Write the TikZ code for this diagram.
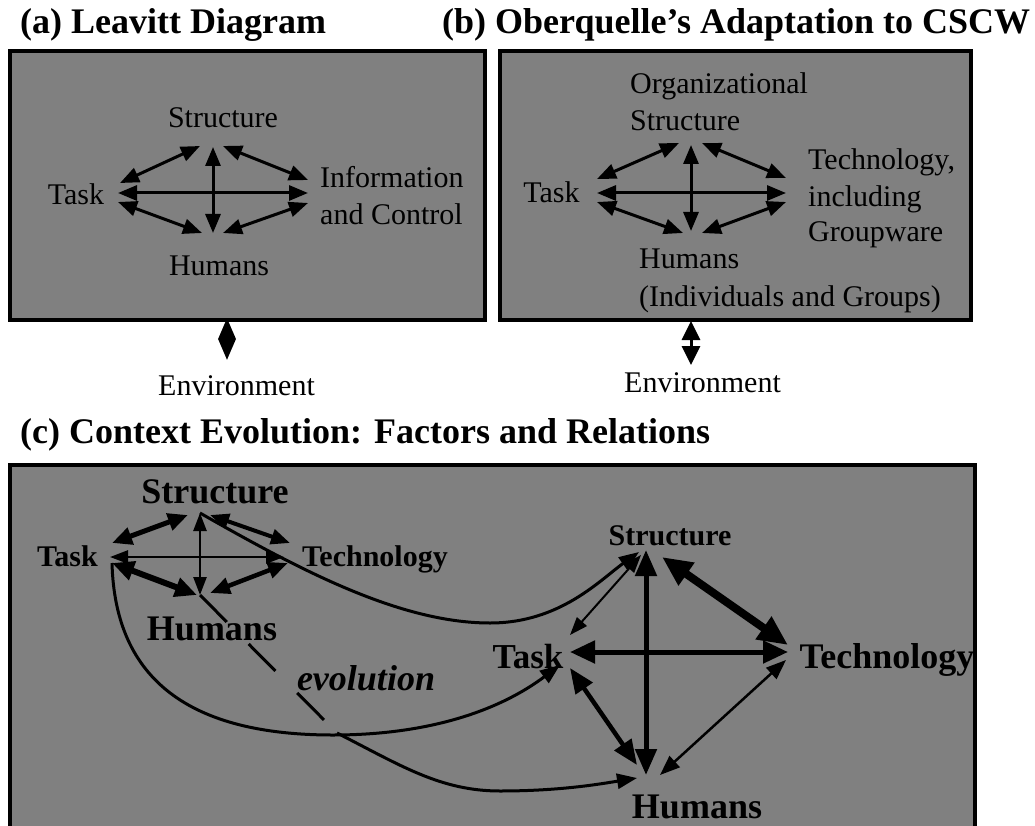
\documentclass[tikz,border=0pt]{standalone}
\usepackage{fontspec}
\setmainfont{Liberation Serif}
\usetikzlibrary{arrows.meta}
\definecolor{panelgray}{RGB}{128,128,128}
\begin{document}
\begin{tikzpicture}[x=1pt,y=-1pt,
  panel/.style={fill=panelgray, draw=black, line width=4pt},
  lbl/.style={inner sep=0pt, anchor=base, font=\fontsize{30}{36}\selectfont},
  lblw/.style={lbl, anchor=base west},
  ttl/.style={inner sep=0pt, anchor=base west, font=\fontsize{36}{42}\selectfont\bfseries},
  bl/.style={inner sep=0pt, anchor=base, font=\fontsize{#1}{#1}\selectfont\bfseries},
  dbl/.style n args={3}{line width=#1, arrows={Triangle[length=#2,width=#3]-Triangle[length=#2,width=#3]}},
  one/.style n args={3}{line width=#1, arrows={-Triangle[length=#2,width=#3]}},
]
\useasboundingbox (0,0) rectangle (1035,826);
\fill[white] (0,0) rectangle (1035,826);

% panels
\draw[panel] (10,51) rectangle (485,319.5);
\draw[panel] (500,51) rectangle (971,319.5);
\fill[panelgray] (10,465) rectangle (975,826);
\draw[line width=4pt] (10,828) -- (10,465) -- (975,465) -- (975,828);

% titles
\node[ttl] (tA) at (20,34) {(a) Leavitt Diagram};
\node[ttl] (tB) at (442,34) {(b) Oberquelle's Adaptation to CSCW};
\node[ttl] (tC) at (20,443) {(c) Context Evolution: Factors and Relations};

% (a) labels
\node[lbl] (aS) at (223,128) {Structure};
\node[lbl] (aT) at (76,205) {Task};
\node[lblw] (aI1) at (320,188) {Information};
\node[lblw] (aI2) at (320,225) {and Control};
\node[lbl] (aH) at (219,275) {Humans};
\node[lbl] (aE) at (236.5,395) {Environment};

% (b) labels
\node[lblw] (bS1) at (630,94) {Organizational};
\node[lblw] (bS2) at (630,131) {Structure};
\node[lbl] (bT) at (551.5,203) {Task};
\node[lblw] (bG1) at (808,170) {Technology,};
\node[lblw] (bG2) at (808,207) {including};
\node[lblw] (bG3) at (808,242) {Groupware};
\node[lblw] (bH1) at (639,269) {Humans};
\node[lblw] (bH2) at (639,306) {(Individuals and Groups)};
\node[lbl] (bE) at (702.5,392) {Environment};

% (c) labels small
\node[bl=36] (sS) at (215,503) {Structure};
\node[bl=30] (sT) at (67.5,566) {Task};
\node[bl=30] (sG) at (375,566) {Technology};
\node[bl=36] (sH) at (212,640) {Humans};
\node[inner sep=0pt, anchor=base, font=\fontsize{36}{36}\selectfont\bfseries\itshape] (evo) at (366,690) {evolution};
% (c) labels large
\node[bl=30] (lS) at (670,545) {Structure};
\node[bl=35] (lT) at (528,668) {Task};
\node[bl=36] (lG) at (887,668) {Technology};
\node[bl=36] (lH) at (697,818) {Humans};

% (a) arrows
\coordinate (aTop) at (213,147); \coordinate (aBot) at (213,233);
\coordinate (aL) at (118,193);   \coordinate (aR) at (308,193);
\coordinate (aTLl) at (120,183); \coordinate (aTLr) at (200,146);
\coordinate (aTRl) at (223,146); \coordinate (aTRr) at (308,180);
\coordinate (aBLl) at (118,202); \coordinate (aBLr) at (202,233);
\coordinate (aBRl) at (223,233); \coordinate (aBRr) at (308,203);
\coordinate (aEt) at (227,318);  \coordinate (aEb) at (227,360);
\draw[dbl={3pt}{19pt}{15pt}] (aTop) -- (aBot);
\draw[dbl={3pt}{19pt}{15pt}] (aL) -- (aR);
\draw[dbl={3pt}{19pt}{15pt}] (aTLl) -- (aTLr);
\draw[dbl={3pt}{19pt}{15pt}] (aTRl) -- (aTRr);
\draw[dbl={3pt}{19pt}{15pt}] (aBLl) -- (aBLr);
\draw[dbl={3pt}{19pt}{15pt}] (aBRl) -- (aBRr);
\draw[dbl={3pt}{21pt}{17pt}] (aEt) -- (aEb);

% (b) arrows
\coordinate (bTop) at (691,145); \coordinate (bBot) at (691,231);
\coordinate (bL) at (597,193);   \coordinate (bR) at (786,193);
\coordinate (bTLl) at (597,179); \coordinate (bTLr) at (679,143);
\coordinate (bTRl) at (702,143); \coordinate (bTRr) at (786,178);
\coordinate (bBLl) at (597,202); \coordinate (bBLr) at (683,233);
\coordinate (bBRl) at (702,233); \coordinate (bBRr) at (786,202);
\coordinate (bEt) at (691,321);  \coordinate (bEb) at (691,365);
\draw[dbl={3pt}{19pt}{15pt}] (bTop) -- (bBot);
\draw[dbl={3pt}{19pt}{15pt}] (bL) -- (bR);
\draw[dbl={3pt}{19pt}{15pt}] (bTLl) -- (bTLr);
\draw[dbl={3pt}{19pt}{15pt}] (bTRl) -- (bTRr);
\draw[dbl={3pt}{19pt}{15pt}] (bBLl) -- (bBLr);
\draw[dbl={3pt}{19pt}{15pt}] (bBRl) -- (bBRr);
\draw[dbl={3pt}{19pt}{18pt}] (bEt) -- (bEb);

% (c) small diagram
\coordinate (sTop) at (200,513); \coordinate (sBot) at (200,595);
\coordinate (sL) at (110,557);   \coordinate (sR) at (284,557);
\coordinate (sTLl) at (112,543); \coordinate (sTLr) at (188,515);
\coordinate (sTRl) at (210,515); \coordinate (sTRr) at (290,543);
\coordinate (sBLl) at (112,563); \coordinate (sBLr) at (197,595);
\coordinate (sBRl) at (210,593); \coordinate (sBRr) at (288,563);
\draw[dbl={2.5pt}{18pt}{13pt}] (sTop) -- (sBot);
\draw[dbl={2.5pt}{18pt}{13pt}] (sL) -- (sR);
\draw[dbl={5pt}{20pt}{17pt}] (sTLl) -- (sTLr);
\draw[dbl={4pt}{19pt}{15pt}] (sTRl) -- (sTRr);
\draw[dbl={6pt}{22pt}{19pt}] (sBLl) -- (sBLr);
\draw[dbl={4.5pt}{20pt}{16pt}] (sBRl) -- (sBRr);

% (c) large diagram
\coordinate (lTop) at (646,550); \coordinate (lBot) at (646,775);
\coordinate (lL) at (570,652);   \coordinate (lR) at (788,652);
\coordinate (lSGa) at (662,557); \coordinate (lSGb) at (788,645);
\coordinate (lSTa) at (641,555); \coordinate (lSTb) at (570,635);
\coordinate (lTHa) at (570,668); \coordinate (lTHb) at (637,765);
\coordinate (lGHa) at (786,660); \coordinate (lGHb) at (660,775);
\draw[dbl={5pt}{26pt}{21pt}] (lTop) -- (lBot);
\draw[dbl={5pt}{25pt}{22pt}] (lL) -- (lR);
\draw[dbl={8pt}{30pt}{26pt}] (lSGa) -- (lSGb);
\draw[dbl={2pt}{18pt}{13pt}] (lSTa) -- (lSTb);
\draw[dbl={4.5pt}{25pt}{20pt}] (lTHa) -- (lTHb);
\draw[dbl={2.5pt}{20pt}{15pt}] (lGHa) -- (lGHb);

% evolution connectors
\coordinate (sTc) at (112,563);
\coordinate (sHc) at (200,595);
\coordinate (brk) at (337,733);
\coordinate (lSc) at (639,552);
\coordinate (lTc) at (560,665);
\coordinate (lHc) at (637,778);
\draw[one={3pt}{20pt}{15pt}] (sTop) .. controls (300,570) and (400,623) .. (490,623)
   .. controls (560,623) and (600,580) .. (lSc);
\draw[one={3pt}{20pt}{15pt}] (sTc) .. controls (115,680) and (190,735) .. (333,735)
   .. controls (430,735) and (500,710) .. (lTc);
\draw[line width=3pt, dash pattern=on 38pt off 31pt] (sHc) -- (brk);
\draw[one={3pt}{20pt}{15pt}] (brk) .. controls (400,765) and (440,791) .. (500,791)
   .. controls (560,791) and (600,784) .. (lHc);
\end{tikzpicture}
\end{document}
